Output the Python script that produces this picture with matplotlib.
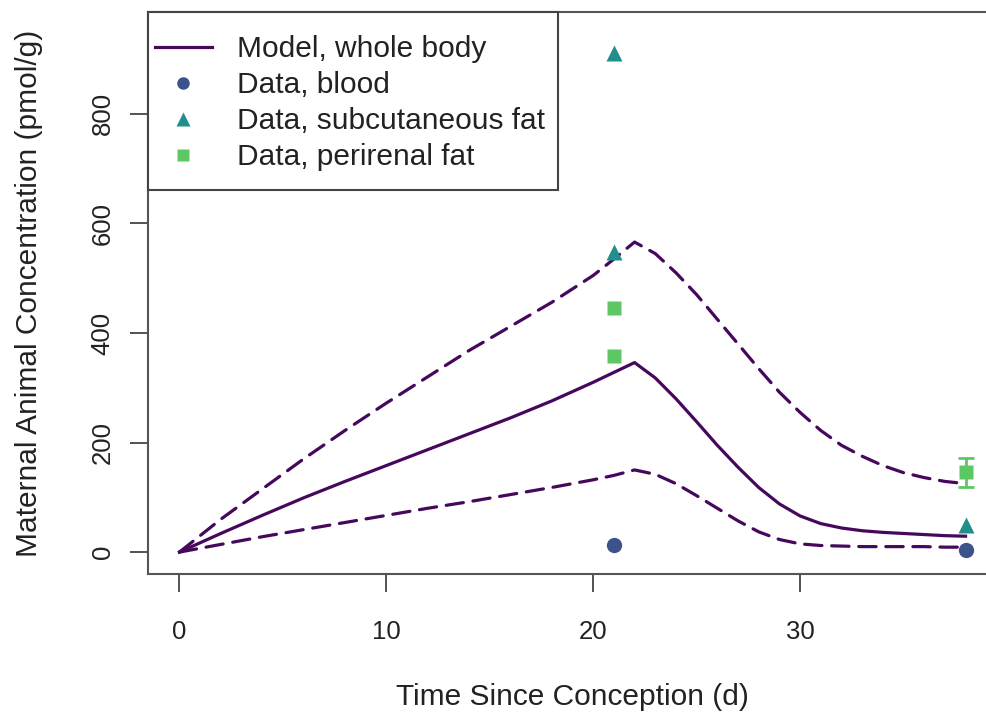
import matplotlib
matplotlib.use("Agg")
import matplotlib.pyplot as plt
from matplotlib.lines import Line2D
from matplotlib.patches import Rectangle

plt.rcParams["font.family"] = ["Liberation Sans", "DejaVu Sans"]
plt.rcParams["lines.scale_dashes"] = False

# Model predictions (pmol/g) over gestation
model_days = [0, 2, 4, 6, 8, 10, 12, 14, 16, 18, 20, 21, 22, 23, 24, 25, 26, 27,
              28, 29, 30, 31, 32, 33, 34, 35, 36, 37, 38]
model_mid = [0, 34, 67, 99, 129, 158, 187, 216, 245, 276, 310, 328, 346, 318, 280,
             238, 195, 155, 118, 88, 66, 52, 44, 39, 36, 34, 32, 30, 29]
model_upper = [0, 60, 115, 170, 222, 272, 320, 368, 412, 456, 505, 535, 566, 545,
               510, 470, 425, 380, 335, 292, 255, 222, 195, 175, 158, 145, 136, 129, 125]
model_lower = [0, 14, 28, 41, 54, 67, 80, 92, 105, 118, 132, 140, 150, 142, 125,
               103, 80, 57, 37, 23, 15, 12, 11, 10, 10, 10, 10, 9, 9]

# Measured concentrations
blood_days = [21, 38]
blood_vals = [13, 4]
subq_days = [21, 21, 38]
subq_vals = [911, 548, 49]
peri_days = [21, 21, 38]
peri_vals = [446, 358, 146]
peri_err_lo = [0, 0, 27]
peri_err_hi = [0, 0, 25]

purple = "#46085C"
blue = "#3B528B"
teal = "#21908C"
green = "#5DC863"

W, H = 987, 713
fig = plt.figure(figsize=(W / 100, H / 100), dpi=100)
ax = fig.add_axes([148 / W, (H - 574) / H, (997 - 148) / W, (574 - 12) / H])

ax.plot(model_days, model_mid, color=purple, lw=2.3, solid_joinstyle="round")
ax.plot(model_days, model_upper, color=purple, lw=2.3, linestyle=(0, (12.5, 7)),
        dash_capstyle="round")
ax.plot(model_days, model_lower, color=purple, lw=2.3, linestyle=(0, (12.5, 7)),
        dash_capstyle="round")

ax.plot(blood_days, blood_vals, "o", color=blue, ms=11, mec="none")
ax.plot(subq_days, subq_vals, "^", color=teal, ms=12, mec="none")
ax.plot(peri_days, peri_vals, "s", color=green, ms=10, mec="none")
for d, v, lo, hi in zip(peri_days, peri_vals, peri_err_lo, peri_err_hi):
    if lo > 0 or hi > 0:
        ax.errorbar([d], [v], yerr=[[lo], [hi]], fmt="none", ecolor=green,
                    elinewidth=2, capsize=6, capthick=2)

ax.set_xlim(-1.52, 39.52)
ax.set_ylim(-40, 986)
ax.set_xticks([0, 10, 20, 30])
ax.set_yticks([0, 200, 400, 600, 800])
for lab in ax.get_yticklabels():
    lab.set_rotation(90)
    lab.set_va("center")
ax.tick_params(axis="both", direction="out", length=13, width=1.3, color="#444444",
               labelsize=18.5, labelcolor="#222222")
ax.tick_params(axis="x", pad=20)
ax.tick_params(axis="y", pad=11)
for s in ax.spines.values():
    s.set_color("#555555")
    s.set_linewidth(1.5)

ax.set_xlabel("Time Since Conception (d)", fontsize=21.5, color="#222222", labelpad=28)
ax.set_ylabel("Maternal Animal Concentration (pmol/g)", fontsize=21.5,
              color="#222222", labelpad=34)

# legend box in the top-left corner of the plot region
ax.add_patch(Rectangle((148 / W, (H - 190) / H), (558 - 148) / W, (190 - 12) / H,
                       transform=fig.transFigure, facecolor="white",
                       edgecolor="#444444", lw=1.5, zorder=4, clip_on=False))

handles = [
    Line2D([], [], color=purple, lw=2.3),
    Line2D([], [], marker="o", ls="none", color=blue, ms=9, mec="none"),
    Line2D([], [], marker="^", ls="none", color=teal, ms=10, mec="none"),
    Line2D([], [], marker="s", ls="none", color=green, ms=8, mec="none"),
]
labels = ["Model, whole body", "Data, blood", "Data, subcutaneous fat",
          "Data, perirenal fat"]
leg = ax.legend(handles, labels, loc="upper left", frameon=False,
                bbox_to_anchor=(155 / W, (H - 35) / H), bbox_transform=fig.transFigure,
                borderpad=0, borderaxespad=0, handlelength=1.9, handletextpad=0.84,
                labelspacing=0.27, fontsize=21.5)
leg.set_zorder(6)
for t in leg.get_texts():
    t.set_color("#222222")

fig.savefig("out.png", dpi=100)
